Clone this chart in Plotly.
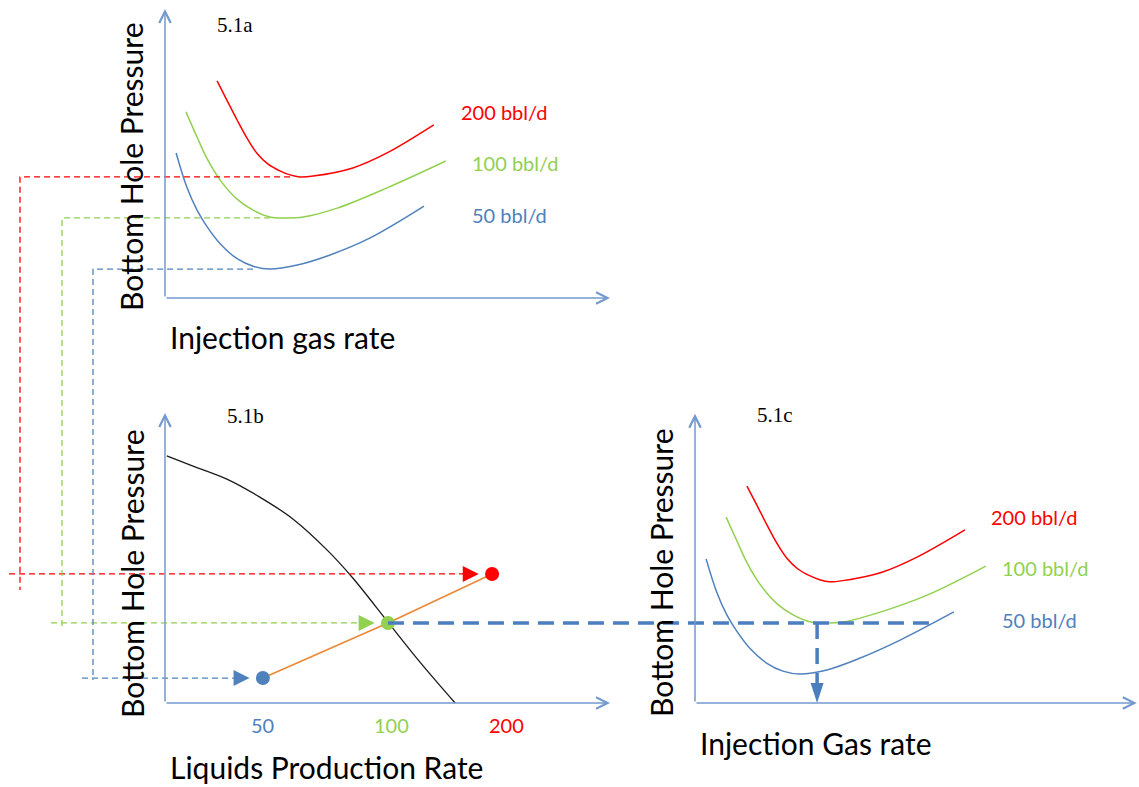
import plotly.graph_objects as go

W, H = 1139, 787

# ---------------- data (schematic units, 0-10 along each axis) ----------------
# 5.1a  bottom hole pressure vs injection gas rate, one curve per liquid rate
gas_a_200 = [1.17, 1.39, 1.62, 1.84, 2.07, 2.31, 2.58, 2.81, 3.03, 3.33, 4.22, 4.99, 6.04]
bhp_a_200 = [7.51, 6.85, 6.16, 5.54, 5.00, 4.64, 4.40, 4.26, 4.19, 4.22, 4.50, 5.02, 5.99]
gas_a_100 = [0.47, 0.72, 0.94, 1.24, 1.62, 1.98, 2.36, 2.65, 3.10, 3.87, 4.99, 6.31]
bhp_a_100 = [6.44, 5.57, 4.84, 4.08, 3.42, 3.04, 2.80, 2.77, 2.80, 3.11, 3.81, 4.74]
gas_a_50 = [0.25, 0.49, 0.72, 0.94, 1.24, 1.62, 1.98, 2.36, 2.97, 3.71, 4.61, 5.82]
bhp_a_50 = [5.02, 3.84, 3.04, 2.48, 1.88, 1.36, 1.10, 1.00, 1.14, 1.49, 2.08, 3.18]

# 5.1c  same family of curves
gas_c_200 = [1.17, 1.39, 1.62, 1.84, 2.07, 2.31, 2.58, 2.81, 3.03, 3.33, 4.23, 5.00, 6.08]
bhp_c_200 = [7.48, 6.83, 6.14, 5.52, 4.99, 4.63, 4.39, 4.25, 4.18, 4.22, 4.52, 5.03, 5.97]
gas_c_100 = [0.70, 0.95, 1.17, 1.47, 1.85, 2.21, 2.59, 2.88, 3.33, 4.10, 5.23, 6.55]
bhp_c_100 = [6.41, 5.57, 4.84, 4.08, 3.42, 3.04, 2.80, 2.76, 2.79, 3.10, 3.72, 4.72]
gas_c_50 = [0.25, 0.49, 0.72, 0.94, 1.24, 1.62, 1.98, 2.36, 2.97, 3.72, 4.62, 5.83]
bhp_c_50 = [4.97, 3.82, 3.03, 2.48, 1.88, 1.37, 1.10, 1.00, 1.14, 1.55, 2.17, 3.14]

# 5.1b  inflow performance curve and operating points
ipr_rate = [0.04, 0.63, 1.39, 2.13, 2.88, 3.64, 4.22, 5.01, 5.73, 6.52]
ipr_bhp = [8.52, 8.17, 7.72, 7.10, 6.34, 5.28, 4.31, 2.79, 1.41, 0.00]
liquid_rates = ["50", "100", "200"]
op_rate = [2.20, 5.01, 7.35]
op_bhp = [0.86, 2.76, 4.45]

curve_labels = ["200 bbl/d", "100 bbl/d", "50 bbl/d"]

# result read in 5.1c
optimum_gas_c = 2.75
dash_end_gas_c = 5.34

# ---------------- styling / layout geometry ----------------
RED, GREEN, BLUE = "#FF0000", "#92D050", "#4F81BD"
AXIS = "#7399CF"
ORANGE = "#EE8733"
HEAVY = "#4A7EBE"
SANS = "Lato"
SERIF = "Liberation Serif"

# pixel origin and pixels per unit for each panel
GEOM = {
    "a": dict(ox=165, oy=298, sx=44.5, sy=28.9, xtip=10.0, ytip=10.0),
    "b": dict(ox=165, oy=703, sx=44.5, sy=29.0, xtip=10.0, ytip=10.0),
    "c": dict(ox=695, oy=703, sx=44.4, sy=29.0, xtip=9.95, ytip=9.97),
}
AX = {"a": ("x", "y"), "b": ("x2", "y2"), "c": ("x3", "y3")}


def to_sheet(p, x, y):
    g = GEOM[p]
    return g["ox"] + x * g["sx"], g["oy"] - y * g["sy"]


def paper(px, py):
    return px / W, 1 - py / H


fig = go.Figure()

# ---- curve families in 5.1a and 5.1c ----
fam = {
    "a": [(gas_a_200, bhp_a_200), (gas_a_100, bhp_a_100), (gas_a_50, bhp_a_50)],
    "c": [(gas_c_200, bhp_c_200), (gas_c_100, bhp_c_100), (gas_c_50, bhp_c_50)],
}
fam_colors = [RED, GREEN, BLUE]
for p, curves in fam.items():
    xa, ya = AX[p]
    for (gx, gy), col in zip(curves, fam_colors):
        fig.add_trace(go.Scatter(x=gx, y=gy, mode="lines", xaxis=xa, yaxis=ya,
                                 line=dict(color=col, width=1.5, shape="spline", smoothing=1.0),
                                 hoverinfo="skip", showlegend=False))

# ---- thin dashed leaders from 5.1a minima to 5.1b ----
leader_px = [20, 62, 93]          # red, green, blue
overshoot_px = [16, 6, 2]
arrow_gap = 0.3
op_index = [2, 1, 0]              # 200, 100, 50 bbl/d
sheet_lines = []
for k, (gx, gy) in enumerate(fam["a"]):
    i_min = gy.index(min(gy))
    x_end = gx[i_min - 1]
    ymin = gy[i_min]
    sx0, sy0 = to_sheet("a", x_end, ymin)
    j = op_index[k]
    tx, ty = to_sheet("b", op_rate[j] - arrow_gap, op_bhp[j])
    col = fam_colors[k]
    L = leader_px[k]
    sheet_lines.append(([sx0, L, L], [sy0, sy0, ty + overshoot_px[k]], col, 1.3, "6px,4px"))
    sheet_lines.append(([L - 11, tx - 4], [ty, ty], col, 1.3, "6px,4px"))

# ---- heavy dashed line from operating point into 5.1c ----
hx0, hy0 = to_sheet("b", op_rate[1], op_bhp[1])
hx1, _ = to_sheet("c", dash_end_gas_c, op_bhp[1])
vx, vy0 = to_sheet("c", optimum_gas_c, op_bhp[1])
_, vy1 = to_sheet("c", optimum_gas_c, 0.62)
sheet_lines.append(([hx0, hx1], [hy0, hy0], HEAVY, 3.5, "16px,9px"))
sheet_lines.append(([vx, vx], [vy0, vy1], HEAVY, 3.5, "16px,9px"))

for xs, ys, col, w, dash in sheet_lines:
    fig.add_trace(go.Scatter(x=xs, y=ys, mode="lines", xaxis="x4", yaxis="y4",
                             line=dict(color=col, width=w, dash=dash),
                             hoverinfo="skip", showlegend=False))

# arrowhead of heavy dashed line
fig.add_trace(go.Scatter(x=[optimum_gas_c], y=[0], mode="markers", xaxis="x3", yaxis="y3",
                         marker=dict(symbol="arrow", angle=180, size=21, color=HEAVY,
                                     line=dict(width=0)),
                         hoverinfo="skip", showlegend=False))

# ---- 5.1b: IPR curve, operating line, points, arrow heads ----
fig.add_trace(go.Scatter(x=ipr_rate, y=ipr_bhp, mode="lines", xaxis="x2", yaxis="y2",
                         line=dict(color="#1A1A1A", width=1.3, shape="spline", smoothing=1.0),
                         hoverinfo="skip", showlegend=False))
fig.add_trace(go.Scatter(x=op_rate, y=op_bhp, mode="lines", xaxis="x2", yaxis="y2",
                         line=dict(color=ORANGE, width=1.5),
                         hoverinfo="skip", showlegend=False))
op_colors = [BLUE, GREEN, RED]
fig.add_trace(go.Scatter(x=[r - arrow_gap for r in op_rate], y=op_bhp, mode="markers",
                         xaxis="x2", yaxis="y2",
                         marker=dict(symbol="arrow-right", size=16, color=op_colors,
                                     line=dict(width=0)),
                         hoverinfo="skip", showlegend=False))
fig.add_trace(go.Scatter(x=op_rate, y=op_bhp, mode="markers", xaxis="x2", yaxis="y2",
                         marker=dict(symbol="circle", size=14, color=op_colors,
                                     line=dict(width=0)),
                         hoverinfo="skip", showlegend=False))

# ---------------- axes (full-figure domains, ranges from geometry) ----------------
layout_axes = {}
for p, (xa, ya) in AX.items():
    g = GEOM[p]
    xr = [-g["ox"] / g["sx"], (W - g["ox"]) / g["sx"]]
    yr = [(g["oy"] - H) / g["sy"], g["oy"] / g["sy"]]
    xname = "xaxis" if xa == "x" else "xaxis" + xa[1:]
    yname = "yaxis" if ya == "y" else "yaxis" + ya[1:]
    layout_axes[xname] = dict(domain=[0, 1], range=xr, visible=False, fixedrange=True,
                              anchor=ya)
    layout_axes[yname] = dict(domain=[0, 1], range=yr, visible=False, fixedrange=True,
                              anchor=xa)
layout_axes["xaxis4"] = dict(domain=[0, 1], range=[0, W], visible=False, anchor="y4")
layout_axes["yaxis4"] = dict(domain=[0, 1], range=[H, 0], visible=False, anchor="x4")

annotations = []
# axis lines with open arrowheads
for p, (xa, ya) in AX.items():
    g = GEOM[p]
    for (tx, ty) in [(g["xtip"], 0), (0, g["ytip"])]:
        annotations.append(dict(x=tx, y=ty, ax=0, ay=0, xref=xa, yref=ya, axref=xa, ayref=ya,
                                text="", showarrow=True, arrowhead=5, arrowsize=1.5,
                                arrowwidth=1.5, arrowcolor=AXIS))

# curve labels
label_x = {"a": [6.61, 6.85, 6.85], "c": [6.62, 6.87, 6.87]}
label_y = {"a": [6.44, 4.67, 2.87], "c": [6.41, 4.66, 2.86]}
for p in ("a", "c"):
    xa, ya = AX[p]
    for txt, lx, ly, col in zip(curve_labels, label_x[p], label_y[p], fam_colors):
        annotations.append(dict(x=lx, y=ly, xref=xa, yref=ya, text=txt, showarrow=False,
                                xanchor="left", yanchor="middle",
                                font=dict(family=SANS, size=20, color=col)))

# liquid-rate tick labels in 5.1b
tick_shift = [0, 4, 14]
for txt, r, sh, col in zip(liquid_rates, op_rate, tick_shift, op_colors):
    annotations.append(dict(x=r, y=-0.76, xref="x2", yref="y2", xshift=sh, text=txt,
                            showarrow=False, xanchor="center", yanchor="middle",
                            font=dict(family=SANS, size=20, color=col)))

# titles
for txt, px, py in [("Bottom Hole Pressure", 131, 167), ("Bottom Hole Pressure", 132, 574),
                    ("Bottom Hole Pressure", 661, 573)]:
    X, Y = paper(px, py)
    annotations.append(dict(x=X, y=Y, xref="paper", yref="paper", text=txt, textangle=-90,
                            showarrow=False, xanchor="center", yanchor="middle",
                            font=dict(family=SANS, size=30, color="black")))
for txt, px, py in [("Injection gas rate", 168, 337), ("Liquids Production Rate", 168, 767),
                    ("Injection Gas rate", 698, 743)]:
    X, Y = paper(px, py)
    annotations.append(dict(x=X, y=Y, xref="paper", yref="paper", text=txt,
                            showarrow=False, xanchor="left", yanchor="middle",
                            font=dict(family=SANS, size=30, color="black")))
for txt, px, py in [("5.1a", 215, 25), ("5.1b", 225, 416), ("5.1c", 755, 415)]:
    X, Y = paper(px, py)
    annotations.append(dict(x=X, y=Y, xref="paper", yref="paper", text=txt,
                            showarrow=False, xanchor="left", yanchor="middle",
                            font=dict(family=SERIF, size=21, color="black")))

fig.update_layout(width=W, height=H, margin=dict(l=0, r=0, t=0, b=0),
                  paper_bgcolor="white", plot_bgcolor="rgba(0,0,0,0)",
                  showlegend=False, annotations=annotations, **layout_axes)

fig.write_html("out.html", config={"displayModeBar": False})
